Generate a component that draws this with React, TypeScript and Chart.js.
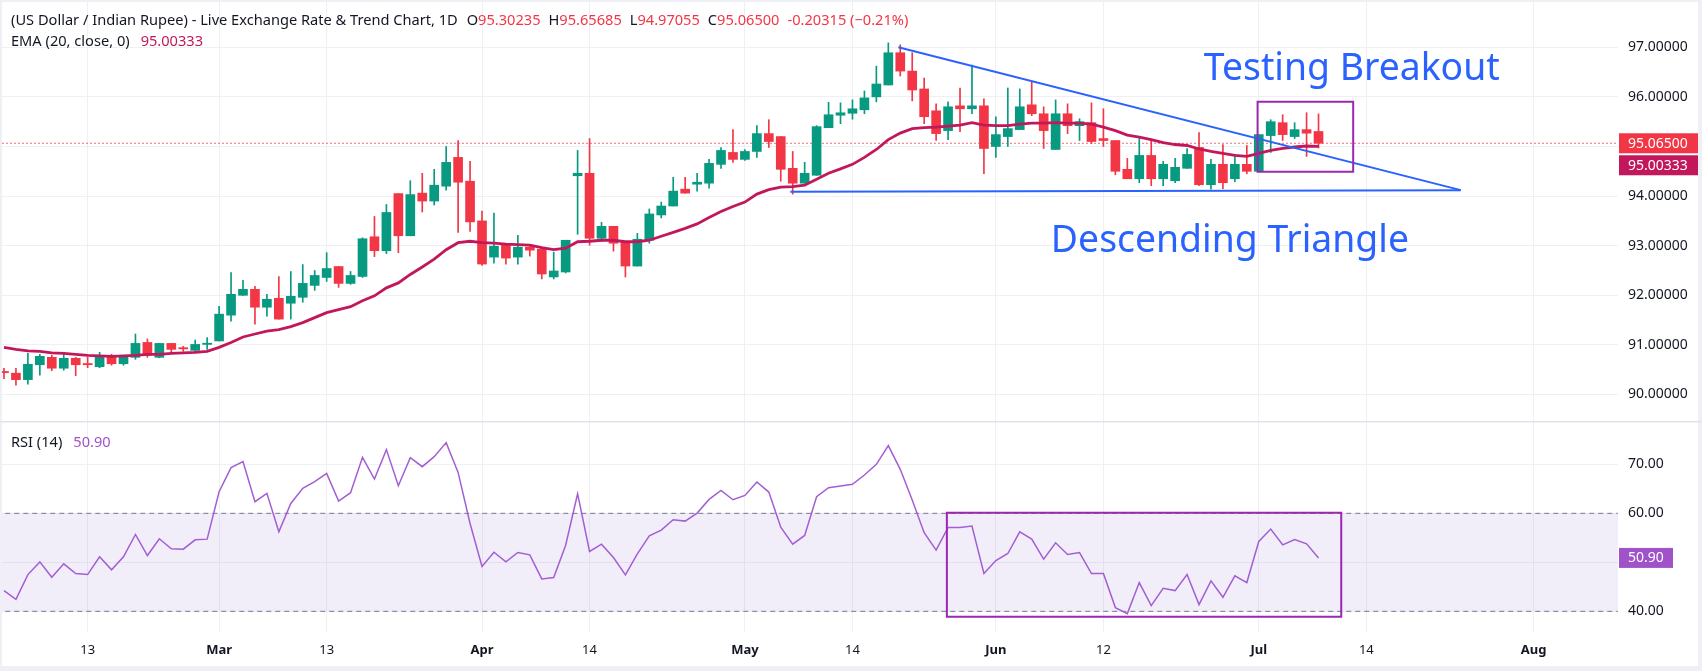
import React, { useEffect, useRef } from 'react';
import { Chart, registerables } from 'chart.js';

Chart.register(...registerables);

// ---------- data ----------
const opens = [
  90.45, 90.43, 90.30, 90.60, 90.75, 90.53, 90.73, 90.61, 90.56, 90.79,
  90.62, 90.75, 91.05, 90.75, 91.03, 90.93, 90.89, 91.01, 91.08, 91.60,
  92.00, 92.12, 91.76, 91.94, 91.84, 91.96, 92.20, 92.36, 92.58, 92.24,
  92.38, 93.18, 92.90, 94.05, 93.20, 94.06, 93.90, 94.20, 94.78, 94.30,
  93.50, 92.77, 93.01, 92.77, 92.97, 92.93, 92.37, 92.47, 94.41, 94.46,
  93.15, 93.39, 93.07, 92.59, 93.11, 93.62, 93.80, 94.14, 94.24, 94.26,
  94.64, 94.88, 94.74, 94.90, 95.26, 95.20, 94.56, 94.26, 94.42, 95.38,
  95.63, 95.67, 95.74, 96.00, 96.24, 96.89, 96.52, 96.16, 95.72, 95.32,
  95.82, 95.76, 95.82, 95.00, 95.20, 95.34, 95.84, 95.66, 94.94, 95.66,
  95.42, 95.48, 95.16, 95.12, 94.54, 94.35, 94.82, 94.35, 94.31, 94.56,
  94.98, 94.23, 94.64, 94.35, 94.64, 94.50, 95.22, 95.48, 95.20, 95.34,
  95.30235,
];
const highs = [
  90.53, 90.53, 90.83, 90.81, 90.79, 90.85, 90.75, 90.75, 90.85, 90.81,
  90.79, 91.22, 91.12, 91.03, 91.03, 90.97, 91.10, 91.15, 91.78, 92.46,
  92.30, 92.18, 92.02, 92.38, 92.48, 92.62, 92.50, 92.86, 92.58, 92.48,
  93.16, 93.59, 93.83, 94.05, 94.31, 94.46, 94.54, 95.00, 95.12, 94.70,
  93.70, 93.66, 93.01, 93.21, 93.01, 92.95, 92.87, 93.11, 94.92, 95.16,
  93.47, 93.39, 93.07, 93.25, 93.74, 93.88, 94.38, 94.38, 94.46, 94.74,
  94.98, 95.34, 94.94, 95.42, 95.54, 95.20, 94.90, 94.68, 95.42, 95.89,
  95.88, 95.94, 96.12, 96.62, 97.09, 97.05, 96.89, 96.38, 95.86, 95.90,
  96.18, 96.64, 95.96, 95.60, 96.18, 96.16, 96.32, 95.80, 95.94, 95.86,
  95.56, 95.88, 95.76, 95.12, 94.76, 95.16, 95.12, 94.70, 94.76, 94.96,
  95.28, 94.74, 95.04, 94.84, 95.02, 95.24, 95.54, 95.64, 95.48, 95.68,
  95.65685,
];
const lows = [
  90.32, 90.19, 90.21, 90.39, 90.48, 90.49, 90.38, 90.54, 90.54, 90.59,
  90.59, 90.71, 90.75, 90.74, 90.85, 90.87, 90.85, 90.91, 91.08, 91.48,
  92.00, 91.42, 91.58, 91.52, 91.52, 91.86, 92.10, 92.28, 92.16, 92.22,
  92.36, 92.78, 92.84, 92.86, 93.20, 93.68, 93.82, 94.12, 93.27, 93.29,
  92.60, 92.65, 92.63, 92.63, 92.79, 92.33, 92.33, 92.45, 93.23, 93.01,
  93.09, 92.89, 92.37, 92.59, 93.05, 93.56, 93.80, 94.06, 94.10, 94.16,
  94.56, 94.68, 94.72, 94.78, 94.98, 94.30, 94.04, 94.26, 94.42, 95.38,
  95.46, 95.55, 95.66, 95.90, 96.24, 96.42, 95.92, 95.46, 95.12, 95.14,
  95.30, 95.66, 94.45, 94.78, 95.00, 95.34, 95.62, 94.96, 94.94, 95.26,
  95.12, 95.06, 95.00, 94.43, 94.35, 94.27, 94.21, 94.21, 94.27, 94.56,
  94.21, 94.14, 94.15, 94.29, 94.45, 94.50, 94.88, 95.12, 95.16, 94.80,
  94.97055,
];
const closes = [
  90.44, 90.30, 90.61, 90.77, 90.53, 90.73, 90.60, 90.60, 90.79, 90.62,
  90.77, 91.03, 90.79, 91.03, 90.91, 90.92, 91.01, 91.02, 91.62, 92.02,
  92.12, 91.76, 91.92, 91.52, 91.98, 92.24, 92.40, 92.54, 92.24, 92.40,
  93.14, 92.90, 93.67, 93.20, 94.03, 93.90, 94.22, 94.68, 94.28, 93.48,
  92.63, 92.99, 92.75, 92.97, 92.91, 92.43, 92.49, 93.11, 94.46, 93.15,
  93.39, 93.05, 92.59, 93.13, 93.64, 93.80, 94.10, 94.06, 94.28, 94.66,
  94.92, 94.74, 94.90, 95.26, 95.10, 94.54, 94.26, 94.46, 95.40, 95.64,
  95.68, 95.76, 95.98, 96.26, 96.89, 96.52, 96.14, 95.60, 95.26, 95.80,
  95.76, 95.82, 94.96, 95.24, 95.36, 95.80, 95.66, 95.32, 95.66, 95.42,
  95.50, 95.10, 95.12, 94.50, 94.35, 94.82, 94.35, 94.64, 94.58, 94.84,
  94.23, 94.64, 94.27, 94.64, 94.50, 95.24, 95.50, 95.24, 95.34, 95.26815,
  95.065,
];
const ema20 = [
  90.95, 90.91, 90.88, 90.87, 90.84, 90.83, 90.81, 90.79, 90.78, 90.77,
  90.78, 90.79, 90.81, 90.81, 90.83, 90.84, 90.85, 90.87, 90.95, 91.05,
  91.16, 91.22, 91.28, 91.31, 91.37, 91.45, 91.55, 91.65, 91.71, 91.77,
  91.89, 91.99, 92.15, 92.25, 92.42, 92.57, 92.73, 92.92, 93.06, 93.09,
  93.06, 93.05, 93.03, 93.02, 93.01, 92.96, 92.92, 92.95, 93.08, 93.09,
  93.11, 93.11, 93.08, 93.08, 93.11, 93.19, 93.27, 93.35, 93.44, 93.57,
  93.69, 93.79, 93.88, 94.04, 94.13, 94.18, 94.19, 94.22, 94.34, 94.46,
  94.55, 94.64, 94.78, 94.94, 95.14, 95.27, 95.36, 95.38, 95.39, 95.41,
  95.43, 95.48, 95.43, 95.42, 95.42, 95.45, 95.47, 95.47, 95.48, 95.47,
  95.47, 95.45, 95.39, 95.32, 95.23, 95.19, 95.14, 95.08, 95.04, 95.02,
  94.95, 94.90, 94.86, 94.82, 94.80, 94.86, 94.92, 94.96, 94.99, 95.01,
  95.00333,
];
const rsi14 = [
  44.23, 42.46, 47.50, 50.09, 46.96, 49.69, 47.71, 47.50, 51.12, 48.46,
  51.12, 55.69, 51.39, 54.80, 52.75, 52.69, 54.59, 54.73, 64.41, 69.32,
  70.55, 62.37, 64.07, 56.23, 62.02, 65.09, 66.46, 68.16, 62.50, 64.21,
  71.43, 67.00, 73.00, 65.64, 71.36, 69.52, 71.57, 74.43, 68.36, 57.93,
  49.14, 52.07, 50.09, 52.00, 51.53, 46.62, 46.89, 53.50, 64.00, 52.21,
  53.71, 50.98, 47.44, 51.73, 55.41, 56.57, 58.68, 58.41, 60.05, 62.84,
  64.68, 62.77, 63.66, 66.39, 64.34, 57.18, 53.71, 55.48, 63.39, 65.23,
  65.57, 65.91, 67.82, 70.00, 73.82, 68.98, 62.71, 56.03, 52.48, 57.12,
  57.12, 57.39, 47.71, 50.37, 51.80, 56.23, 54.73, 50.64, 53.98, 51.59,
  52.00, 47.71, 47.71, 40.76, 39.53, 45.87, 41.16, 44.71, 44.23, 47.50,
  41.37, 46.21, 42.87, 47.23, 45.87, 54.25, 56.78, 53.57, 54.66, 53.78,
  50.90,
];

const xTickIndex = [7, 18, 27, 40, 49, 62, 71, 83, 92, 105, 114, 128];
const xTickLabels = ['13', 'Mar', '13', 'Apr', '14', 'May', '14', 'Jun', '12', 'Jul', '14', 'Aug'];
const xTickIsMonth = [false, true, false, true, false, true, false, true, false, true, false, true];
const priceTicks = [90, 91, 92, 93, 94, 95, 96, 97];
const rsiTicks = [40, 50, 60, 70];
const rsiUpper = 60;
const rsiLower = 40;

const resistanceLine = [{ x: 74.84, y: 97.0 }, { x: 121.9, y: 94.12 }];
const supportLine = [{ x: 65.8, y: 94.09 }, { x: 121.9, y: 94.12 }];
const priceBox = [
  { x: 104.9, y: 95.9 }, { x: 112.9, y: 95.9 }, { x: 112.9, y: 94.49 },
  { x: 104.9, y: 94.49 }, { x: 104.9, y: 95.9 },
];
const rsiBox = [
  { x: 78.9, y: 60.1 }, { x: 111.9, y: 60.1 }, { x: 111.9, y: 38.9 },
  { x: 78.9, y: 38.9 }, { x: 78.9, y: 60.1 },
];

const titleText = '(US Dollar / Indian Rupee) - Live Exchange Rate & Trend Chart, 1D';
const emaLabel = 'EMA (20, close, 0)';
const rsiLabel = 'RSI (14)';
const noteBreakout = 'Testing Breakout';
const noteTriangle = 'Descending Triangle';

// ---------- styles ----------
const FONT = '"Noto Sans", "DejaVu Sans", sans-serif';
const TEXT = '#131722';
const UP = '#089981';
const DOWN = '#f23645';
const EMA_COLOR = '#c2185b';
const RSI_COLOR = '#a35ed4';
const RSI_BADGE = '#a052c8';
const BOX_COLOR = '#9c27b0';
const TREND_COLOR = '#2962ff';
const GRID = '#eef0f4';
const FRAME = '#eef0f5';

const X_MIN = -0.167;
const X_MAX = 135.06;
const W = 1702;
const TOP_H = 421;
const BOT_H = 250;
const AXIS_W = 80;

const idx = closes.map((_, i) => i);
const candleColors = closes.map((c, i) => (c >= opens[i] ? UP : DOWN));

function fitSize(ctx: CanvasRenderingContext2D, text: string, weight: string, target: number) {
  ctx.font = `${weight} 40px ${FONT}`;
  const w = ctx.measureText(text).width;
  return (40 * target) / w;
}

function badge(ctx: CanvasRenderingContext2D, left: number, y: number, w: number, text: string, color: string) {
  ctx.fillStyle = color;
  ctx.fillRect(left + 1, y - 10, w, 20);
  ctx.fillStyle = '#ffffff';
  ctx.font = `14px ${FONT}`;
  ctx.textAlign = 'left';
  ctx.textBaseline = 'middle';
  ctx.fillText(text, left + 10, y + 0.5);
}

const xScaleBase = (showLabels: boolean, height: number) => ({
  type: 'linear' as const,
  min: X_MIN,
  max: X_MAX,
  offset: false,
  afterBuildTicks: (s: any) => {
    s.ticks = xTickIndex.map((v) => ({ value: v }));
  },
  afterFit: (s: any) => {
    s.height = height;
    s.paddingLeft = 0;
    s.paddingRight = 0;
  },
  grid: { color: GRID, drawTicks: false, offset: false },
  border: { display: false },
  ticks: {
    display: showLabels,
    padding: 10,
    maxRotation: 0,
    autoSkip: false,
    color: TEXT,
    callback: (_v: any, i: number) => xTickLabels[i],
    font: (c: any) => ({ family: FONT, size: 13, weight: xTickIsMonth[c.index] ? 'bold' : 'normal' }),
  },
});

const topOverlay = {
  id: 'topOverlay',
  afterDraw(chart: any) {
    const ctx: CanvasRenderingContext2D = chart.ctx;
    const area = chart.chartArea;
    const xs = chart.scales.x;
    const ys = chart.scales.y;
    ctx.save();

    // header legend
    const hs = fitSize(ctx, titleText, 'normal', 447);
    ctx.font = `${hs}px ${FONT}`;
    ctx.textBaseline = 'alphabetic';
    ctx.textAlign = 'left';
    let x = 11;
    ctx.fillStyle = TEXT;
    ctx.fillText(titleText, x, 25);
    x += ctx.measureText(titleText).width + 9;
    const last = closes.length - 1;
    const parts: [string, number][] = [
      ['O', opens[last]], ['H', highs[last]], ['L', lows[last]], ['C', closes[last]],
    ];
    for (const [k, v] of parts) {
      ctx.fillStyle = TEXT;
      ctx.fillText(k, x, 25);
      x += ctx.measureText(k).width;
      const s = v.toFixed(5);
      ctx.fillStyle = DOWN;
      ctx.fillText(s, x, 25);
      x += ctx.measureText(s).width + 8;
    }
    const chg = closes[last] - closes[last - 1];
    const pct = (chg / closes[last - 1]) * 100;
    ctx.fillStyle = DOWN;
    ctx.fillText(`${chg.toFixed(5)} (\u2212${Math.abs(pct).toFixed(2)}%)`, x, 25);

    ctx.fillStyle = TEXT;
    ctx.fillText(emaLabel, 11, 46);
    const ew = ctx.measureText(emaLabel).width;
    ctx.fillStyle = EMA_COLOR;
    ctx.fillText(ema20[last].toFixed(5), 11 + ew + 11, 46);

    // annotation notes
    const ns = fitSize(ctx, noteBreakout, 'normal', 296);
    ctx.font = `${ns}px ${FONT}`;
    ctx.fillStyle = TREND_COLOR;
    ctx.fillText(noteBreakout, xs.getPixelForValue(100.4), ys.getPixelForValue(96.34));
    ctx.fillText(noteTriangle, xs.getPixelForValue(87.6), ys.getPixelForValue(92.87));

    // price badges
    const cy = ys.getPixelForValue(closes[last]);
    badge(ctx, area.right, cy, AXIS_W - 1, closes[last].toFixed(5), DOWN);
    const eyRaw = ys.getPixelForValue(ema20[last]);
    const ey = Math.max(eyRaw, cy + 22);
    badge(ctx, area.right, ey, AXIS_W - 1, ema20[last].toFixed(5), EMA_COLOR);
    ctx.restore();
  },
};

const botOverlay = {
  id: 'botOverlay',
  afterDraw(chart: any) {
    const ctx: CanvasRenderingContext2D = chart.ctx;
    const area = chart.chartArea;
    const ys = chart.scales.y;
    ctx.save();
    // pane separator
    ctx.fillStyle = '#e0e3eb';
    ctx.fillRect(0, 0, W, 1.5);

    const hs = fitSize(ctx, titleText, 'normal', 447);
    ctx.font = `${hs}px ${FONT}`;
    ctx.textAlign = 'left';
    ctx.textBaseline = 'alphabetic';
    ctx.fillStyle = TEXT;
    ctx.fillText(rsiLabel, 11, 26);
    const rw = ctx.measureText(rsiLabel).width;
    const last = rsi14.length - 1;
    ctx.fillStyle = RSI_BADGE;
    ctx.fillText(rsi14[last].toFixed(2), 11 + rw + 11, 26);

    badge(ctx, area.right, ys.getPixelForValue(rsi14[last]), 54, rsi14[last].toFixed(2), RSI_BADGE);
    ctx.restore();
  },
};

function topConfig(): any {
  return {
    type: 'bar',
    data: {
      datasets: [
        { type: 'line', label: 'box', data: priceBox, borderColor: BOX_COLOR, borderWidth: 2, pointRadius: 0, borderCapStyle: 'square', borderJoinStyle: 'miter' },
        { type: 'line', label: 'resistance', data: resistanceLine, borderColor: TREND_COLOR, borderWidth: 2, pointRadius: 0 },
        { type: 'line', label: 'support', data: supportLine, borderColor: TREND_COLOR, borderWidth: 2, pointRadius: 0 },
        { type: 'line', label: 'EMA', data: idx.map((i) => ({ x: i, y: ema20[i] })), borderColor: EMA_COLOR, borderWidth: 2.8, pointRadius: 0, tension: 0 },
        { type: 'bar', label: 'bodies', data: idx.map((i) => ({ x: i, y: [opens[i], closes[i]] })), backgroundColor: candleColors, barThickness: 9, minBarLength: 1.2, grouped: false, borderWidth: 0 },
        { type: 'bar', label: 'wicks', data: idx.map((i) => ({ x: i, y: [lows[i], highs[i]] })), backgroundColor: candleColors, barThickness: 1, grouped: false, borderWidth: 0 },
        { type: 'line', label: 'close', data: [{ x: X_MIN - 5, y: closes[closes.length - 1] }, { x: X_MAX + 5, y: closes[closes.length - 1] }], borderColor: DOWN, borderWidth: 1, borderDash: [1.5, 2.5], pointRadius: 0 },
      ],
    },
    options: {
      animation: false,
      responsive: false,
      events: [],
      layout: { padding: { left: 2, top: 2, right: 4, bottom: 0 }, autoPadding: false },
      plugins: { legend: { display: false }, tooltip: { enabled: false } },
      scales: {
        x: xScaleBase(false, 0),
        y: {
          position: 'right',
          min: 89.466,
          max: 97.913,
          afterBuildTicks: (s: any) => {
            s.ticks = priceTicks.map((v) => ({ value: v }));
          },
          afterFit: (s: any) => {
            s.width = AXIS_W;
            s.paddingTop = 0;
            s.paddingBottom = 0;
          },
          grid: { color: GRID, drawTicks: false },
          border: { display: false },
          ticks: { padding: 10, color: TEXT, font: { family: FONT, size: 14 }, callback: (v: any) => Number(v).toFixed(5) },
        },
      },
    },
    plugins: [topOverlay],
  };
}

function botConfig(): any {
  return {
    type: 'line',
    data: {
      datasets: [
        { label: 'box', data: rsiBox, borderColor: BOX_COLOR, borderWidth: 2, pointRadius: 0, borderCapStyle: 'square', borderJoinStyle: 'miter' },
        { label: 'RSI', data: idx.map((i) => ({ x: i, y: rsi14[i] })), borderColor: RSI_COLOR, borderWidth: 1.5, pointRadius: 0, tension: 0 },
        { label: 'upper', data: [{ x: X_MIN - 5, y: rsiUpper }, { x: X_MAX + 5, y: rsiUpper }], borderColor: '#787b86', borderWidth: 1, borderDash: [5, 4], pointRadius: 0, fill: { value: rsiLower }, backgroundColor: 'rgba(126,87,194,0.1)' },
        { label: 'lower', data: [{ x: X_MIN - 5, y: rsiLower }, { x: X_MAX + 5, y: rsiLower }], borderColor: '#787b86', borderWidth: 1, borderDash: [5, 4], pointRadius: 0 },
      ],
    },
    options: {
      animation: false,
      responsive: false,
      events: [],
      layout: { padding: { left: 2, top: 0, right: 4, bottom: 5 }, autoPadding: false },
      plugins: { legend: { display: false }, tooltip: { enabled: false } },
      scales: {
        x: xScaleBase(true, 34),
        y: {
          position: 'right',
          min: 35.78,
          max: 78.84,
          afterBuildTicks: (s: any) => {
            s.ticks = rsiTicks.map((v) => ({ value: v }));
          },
          afterFit: (s: any) => {
            s.width = AXIS_W;
            s.paddingTop = 0;
            s.paddingBottom = 0;
          },
          grid: { color: GRID, drawTicks: false },
          border: { display: false },
          ticks: { padding: 10, color: TEXT, font: { family: FONT, size: 14 }, callback: (v: any) => Number(v).toFixed(2) },
        },
      },
    },
    plugins: [botOverlay],
  };
}

export default function App() {
  const topRef = useRef<HTMLCanvasElement>(null);
  const botRef = useRef<HTMLCanvasElement>(null);
  useEffect(() => {
    document.body.style.margin = '0';
    const top = new Chart(topRef.current as HTMLCanvasElement, topConfig());
    const bot = new Chart(botRef.current as HTMLCanvasElement, botConfig());
    return () => {
      top.destroy();
      bot.destroy();
    };
  }, []);
  return (
    <div style={{ position: 'fixed', left: 0, top: 0, width: W, height: TOP_H + BOT_H, background: FRAME, overflow: 'hidden' }}>
      <div style={{ position: 'absolute', left: 2, top: 2, width: W - 6, height: TOP_H + BOT_H - 7, background: '#ffffff' }} />
      <canvas ref={topRef} width={W} height={TOP_H} style={{ position: 'absolute', left: 0, top: 0, width: W, height: TOP_H }} />
      <canvas ref={botRef} width={W} height={BOT_H} style={{ position: 'absolute', left: 0, top: TOP_H, width: W, height: BOT_H }} />
    </div>
  );
}
